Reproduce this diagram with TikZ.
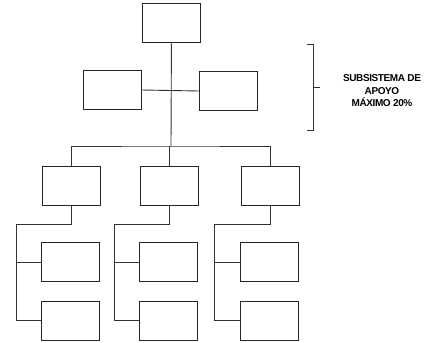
\documentclass[tikz,border=0pt]{standalone}
\usepackage{fontspec}
\setmainfont{Liberation Sans}
\newfontfamily\rotulo[LetterSpace=-4]{Liberation Sans}
\usetikzlibrary{positioning}

\tikzset{
    caja/.style={draw=black!85, line width=1pt, minimum width=58pt, minimum height=39pt, inner sep=0pt},
    linea/.style={draw=black!80, line width=0.9pt},
}

\begin{document}
\begin{tikzpicture}[x=1pt, y=-1pt]
    \useasboundingbox (0,0) rectangle (427,342);

    % Direccion y subsistema de apoyo
    \node[caja] (top) at (171.5,23.5) {};
    \node[caja] (ml) at (112,90) {};
    \node[caja] (mr) at (228.5,91) {};
    \coordinate (bus) at (171,146);
    \draw[linea] (top) -- (bus);
    \draw[linea] (ml.east) -- (mr.west);

    % Columnas de nivel operativo
    \foreach \i/\x/\l in {1/71.5/16, 2/169.5/114, 3/270/214} {
        \node[caja] (b\i) at (\x,186) {};
        \node[caja] (c\i) at (\x-1,262) {};
        \node[caja] (d\i) at (\x-1,320.5) {};
        \coordinate (r\i) at (\l,224);
        \draw[linea] (b\i.south) |- (r\i) |- (d\i.west);
        \draw[linea] (c\i.west) -- (c\i.west -| r\i);
    }
    \draw[linea] (b1.north) |- (bus) -| (b3.north);
    \draw[linea] (b2.north) -- (b2.north |- bus);

    % Llave y texto
    \draw[linea] (307,44) -- (313,44) -- (313,130) -- (307,130);
    \draw[linea] (313,87) -- (320,87);
    \node[align=center, font=\rotulo\bfseries\fontsize{10}{12.5}\selectfont, inner sep=0pt] (txt) at (382,91)
        {SUBSISTEMA DE\\APOYO\\MÁXIMO 20\%};

\end{tikzpicture}
\end{document}
